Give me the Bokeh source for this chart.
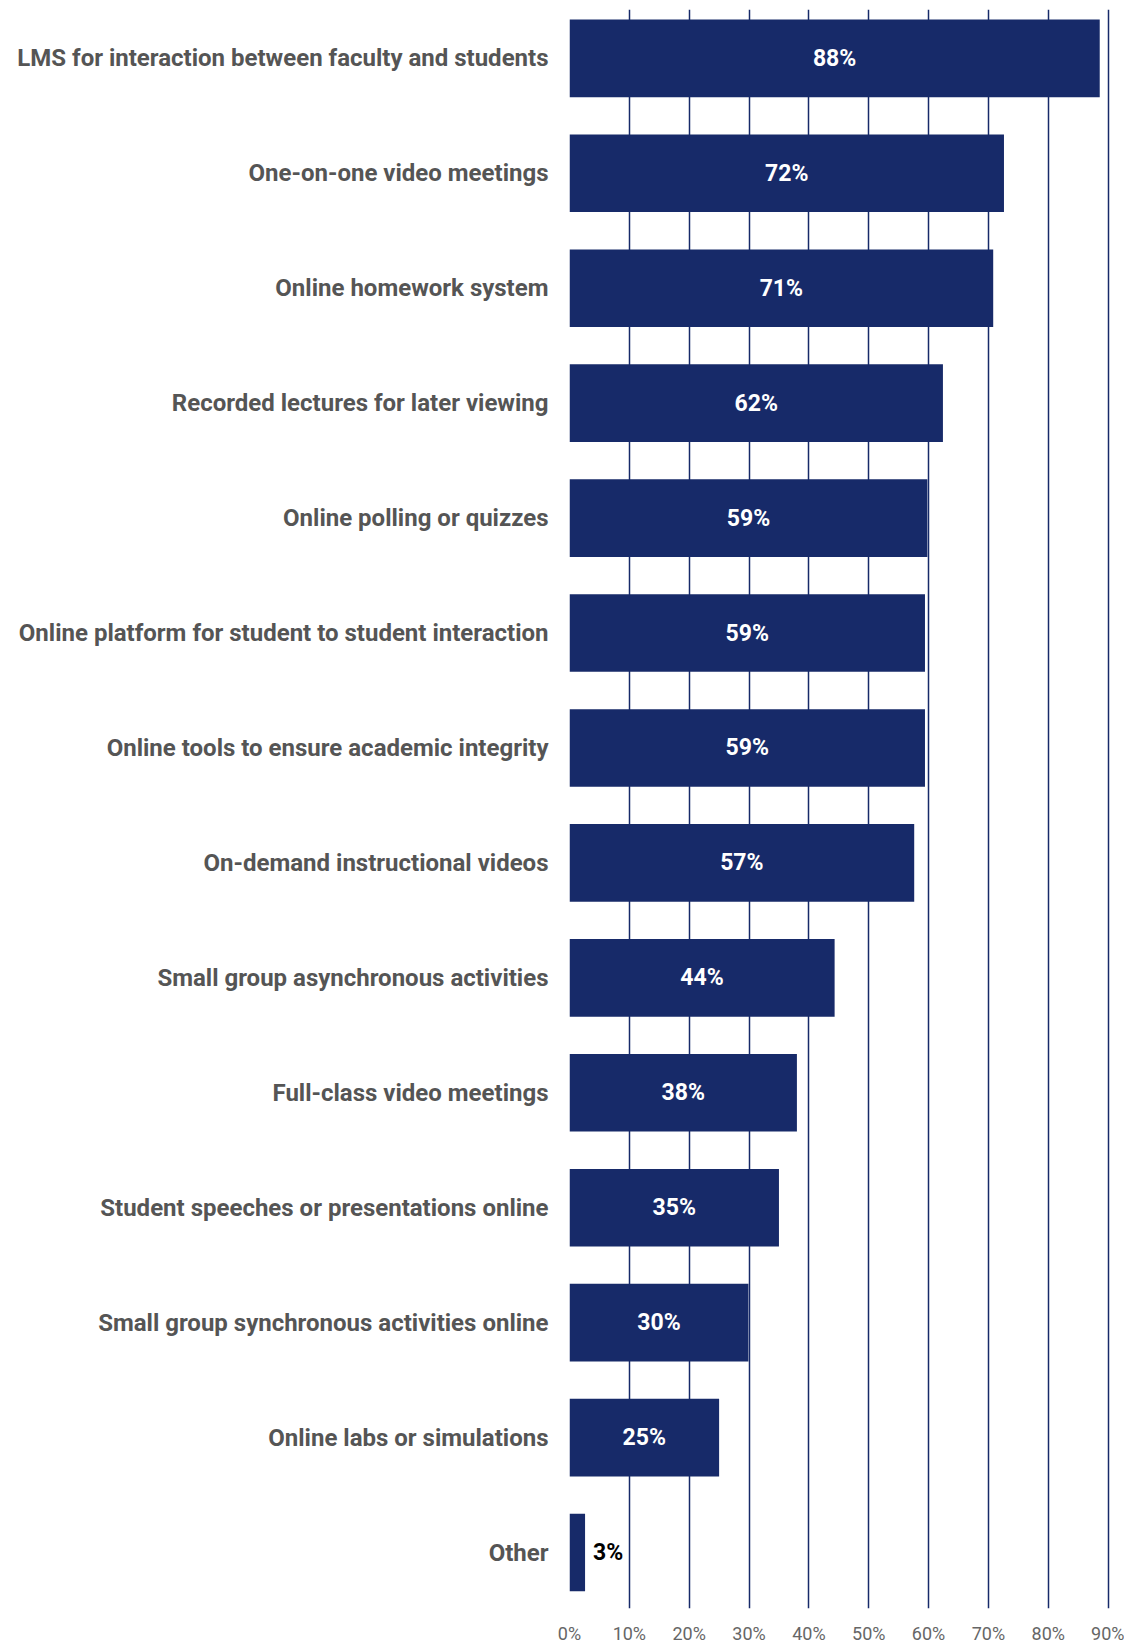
from bokeh.plotting import figure
from bokeh.models import Range1d, FixedTicker, ColumnDataSource
from bokeh.core.properties import value
from bokeh.embed import file_html
from bokeh.resources import INLINE

categories = [
    "LMS for interaction between faculty and students",
    "One-on-one video meetings",
    "Online homework system",
    "Recorded lectures for later viewing",
    "Online polling or quizzes",
    "Online platform for student to student interaction",
    "Online tools to ensure academic integrity",
    "On-demand instructional videos",
    "Small group asynchronous activities",
    "Full-class video meetings",
    "Student speeches or presentations online",
    "Small group synchronous activities online",
    "Online labs or simulations",
    "Other",
]
values = [88.6, 72.6, 70.8, 62.4, 59.8, 59.4, 59.4, 57.6, 44.3, 38.0, 35.0, 29.9, 25.0, 2.6]
pct_labels = ["88%", "72%", "71%", "62%", "59%", "59%", "59%", "57%", "44%", "38%", "35%", "30%", "25%", "3%"]
x_ticks = [0, 10, 20, 30, 40, 50, 60, 70, 80, 90]

NAVY = "#172a69"
n = len(categories)
pos = list(range(n))

p = figure(
    output_backend="svg", toolbar_location=None,
    frame_width=541, frame_height=1599,
    x_range=Range1d(0, 90.4), y_range=Range1d(n - 1 + 0.487, -0.425),
    min_border_left=569, min_border_top=9, min_border_right=14, min_border_bottom=20,
)
p.outline_line_color = None
p.background_fill_color = "white"

inside = [i for i in pos if values[i] >= 10]
outside = [i for i in pos if values[i] < 10]

src = ColumnDataSource(dict(y=pos, right=values))
p.hbar(y="y", left=0, right="right", height=0.675, source=src,
       fill_color=NAVY, line_color=None)

src_in = ColumnDataSource(dict(x=[values[i] / 2 for i in inside], y=inside,
                               t=[pct_labels[i] for i in inside]))
p.text(x="x", y="y", text="t", source=src_in, text_color="white",
       text_font=value("Roboto"), text_font_style="bold", text_font_size="23px",
       text_align="center", text_baseline="middle")

src_out = ColumnDataSource(dict(x=[values[i] for i in outside], y=outside,
                                t=[pct_labels[i] for i in outside]))
p.text(x="x", y="y", text="t", source=src_out, text_color="black", x_offset=8,
       text_font=value("Roboto"), text_font_style="bold", text_font_size="23px",
       text_align="left", text_baseline="middle")

# y axis (categories)
p.yaxis.ticker = FixedTicker(ticks=pos)
p.yaxis.major_label_overrides = {i: c for i, c in enumerate(categories)}
p.yaxis.axis_line_color = None
p.yaxis.major_tick_line_color = None
p.yaxis.minor_tick_line_color = None
p.yaxis.major_tick_out = 0
p.yaxis.major_label_standoff = 21
p.yaxis.major_label_text_font = "Roboto"
p.yaxis.major_label_text_font_style = "bold"
p.yaxis.major_label_text_font_size = "24px"
p.yaxis.major_label_text_color = "#555555"
p.ygrid.grid_line_color = None

# x axis
p.xaxis.ticker = FixedTicker(ticks=x_ticks)
p.xaxis.major_label_overrides = {t: f"{t}%" for t in x_ticks}
p.xaxis.axis_line_color = None
p.xaxis.major_tick_line_color = None
p.xaxis.minor_tick_line_color = None
p.xaxis.major_tick_out = 0
p.xaxis.major_label_standoff = 14
p.xaxis.major_label_text_font = "Roboto"
p.xaxis.major_label_text_font_style = "normal"
p.xaxis.major_label_text_font_size = "18px"
p.xaxis.major_label_text_color = "#666666"
p.xgrid.ticker = FixedTicker(ticks=x_ticks)
p.xgrid.grid_line_color = NAVY
p.xgrid.grid_line_width = 1.5
p.xgrid.level = "underlay"

open("out.html", "w").write(file_html(p, INLINE))
